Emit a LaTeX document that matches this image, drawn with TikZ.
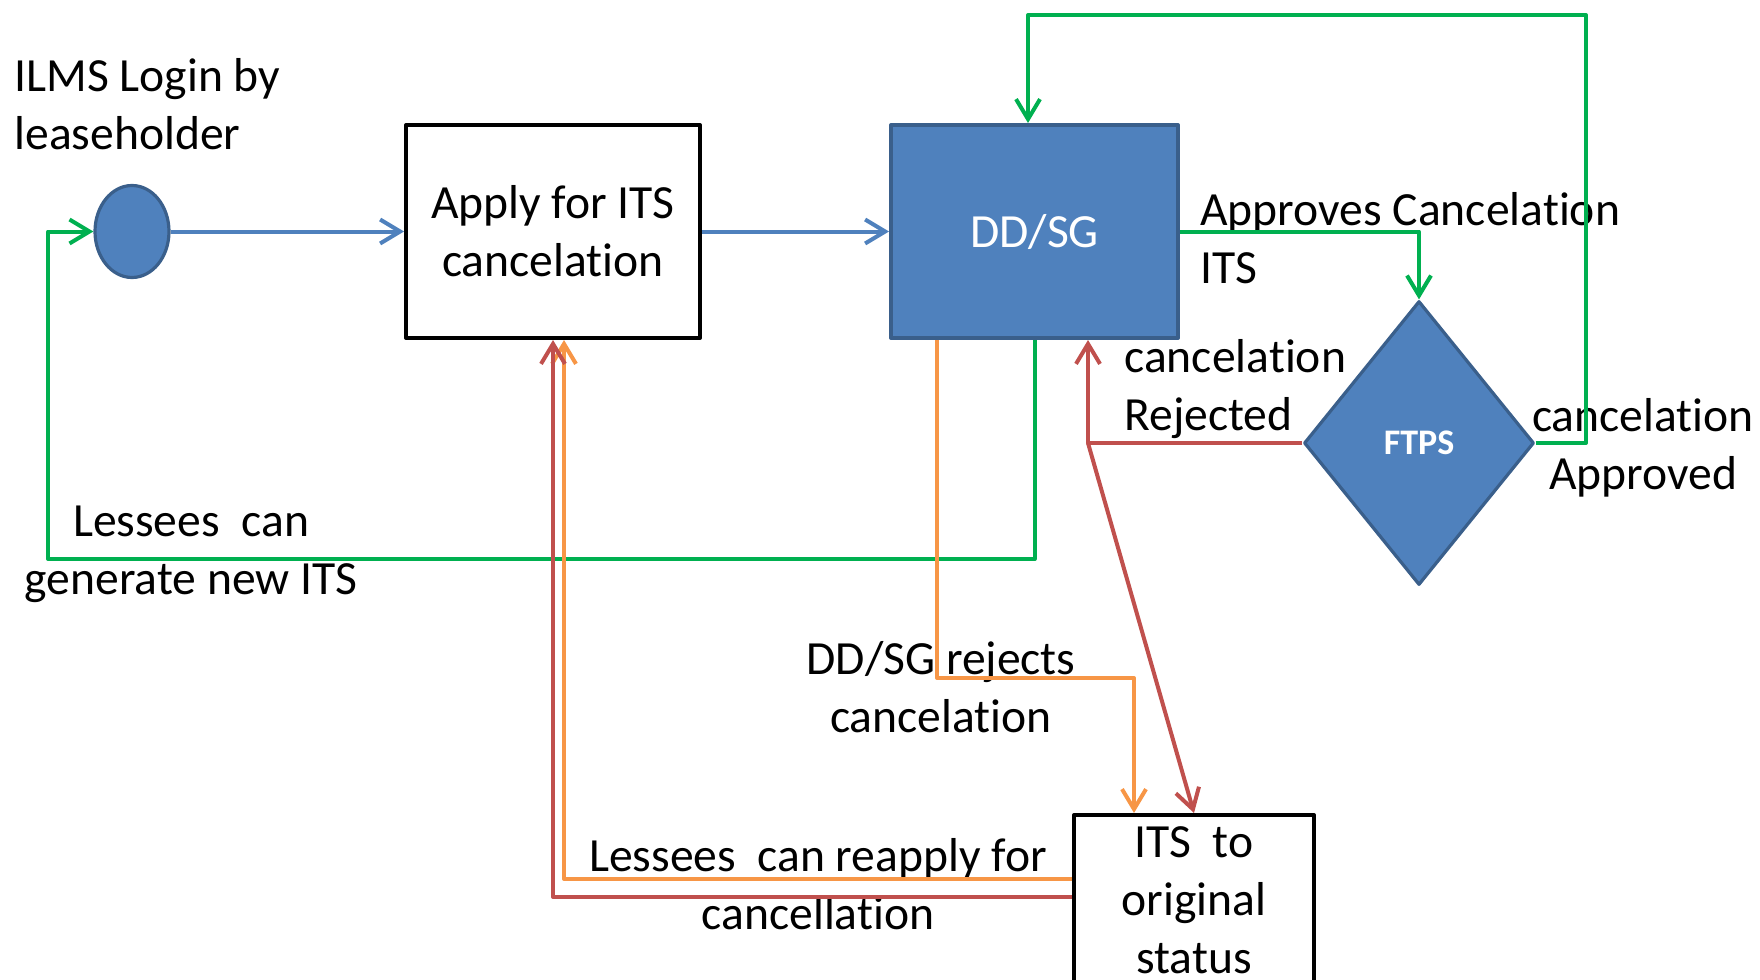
\documentclass[tikz,border=0pt]{standalone}
\usepackage{fontspec}
\setmainfont{Carlito}[Ligatures=NoCommon]
\usetikzlibrary{positioning}
\usetikzlibrary{shapes.geometric}
\usetikzlibrary{arrows.meta}

\definecolor{boxblue}{HTML}{4F81BD}
\definecolor{edgeblue}{HTML}{3A5F8B}
\definecolor{flowgreen}{HTML}{00B050}
\definecolor{floworange}{HTML}{F79646}
\definecolor{flowred}{HTML}{C0504D}

\tikzset{
  txt/.style={font=\fontsize{23.8}{29}\selectfont, inner sep=0pt, align=center},
  process/.style={txt, draw=black, line width=2pt, minimum width=147pt, minimum height=106.5pt},
  start/.style={ellipse, draw=edgeblue, fill=boxblue, line width=1.6pt, minimum width=37pt, minimum height=46pt, inner sep=0pt},
  decision/.style={diamond, draw=edgeblue, fill=boxblue, line width=1.6pt, text=white,
                   font=\fontsize{18}{20}\selectfont\bfseries, minimum width=115pt, minimum height=142pt, inner sep=0pt},
  flow/.style={line width=2pt, ->},
}

\begin{document}
\begin{tikzpicture}[x=0.5pt, y=-0.5pt, on grid, line join=round,
                    >={Straight Barb[length=10pt,width=12pt]}]
      \useasboundingbox (0,0) rectangle (1760,979);

      \node[start]                                      (login) at (132,231.5) {};
      \node[process, right=210.5pt of login]            (apply) {Apply for ITS\\cancelation};
      \node[process, right=240.75pt of apply, fill=boxblue, draw=edgeblue, text=white,
            minimum width=143.5pt]                      (ddsg)  {DD/SG};
      \node[decision, below right=105.75pt and 192.25pt of ddsg] (ftps) {FTPS};
      \node[process, below right=334.25pt and 79.75pt of ddsg,
            minimum width=120pt, minimum height=85pt]   (its)   {ITS\ \ to\\original\\status};

      % labels
      \node[txt, anchor=west, align=left] (lbl_login)   at (14,104)   {ILMS Login by\\leaseholder};
      \node[txt, anchor=west, align=left] (lbl_approve) at (1200,238) {Approves Cancelation\\ITS};
      \node[txt, anchor=west, align=left] (lbl_reject)  at (1124,389) {cancelation\\Rejected};
      \node[txt]                          (lbl_ok)      at (1643,448) {cancelation\\Approved};
      \node[txt]                          (lbl_new)     at (191,554)  {Lessees\ \ can\\generate new ITS};
      \node[txt]                          (lbl_ddrej)   at (941,687)  {DD/SG rejects\\cancelation};
      \node[txt]                          (lbl_reapply) at (818,884)  {Lessees\ \ can reapply for\\cancellation};

      \coordinate (top_turn)   at (1586,15);
      \coordinate (left_turn)  at (48,559);
      \coordinate (rej_turn)   at (1134,678);
      \coordinate (split)      at (1088,443);

      % blue
      \draw[flow, boxblue] (login) -- (apply);
      \draw[flow, boxblue] (apply) -- (ddsg);

      % green
      \draw[flow, flowgreen] (ddsg.east) -| (ftps.north);
      \draw[flow, flowgreen] (ftps.east) -| (top_turn) -| ([xshift=-3.25pt]ddsg.north);
      \draw[flow, flowgreen] (ddsg.south) |- (left_turn) |- (login.west);

      % orange
      \draw[flow, floworange] ([xshift=24pt]ddsg.south west) |- (rej_turn) -- (rej_turn |- its.north);
      \draw[flow, floworange] ([yshift=10.5pt]its.west) -| ([xshift=5.5pt]apply.south);

      % red
      \draw[flow, flowred] (ftps.west) -- (split) -- (split |- ddsg.south);
      \draw[flow, flowred] (split) -- (its.north);
      \draw[flow, flowred] ([yshift=1.5pt]its.west) -| (apply.south);
\end{tikzpicture}
\end{document}
